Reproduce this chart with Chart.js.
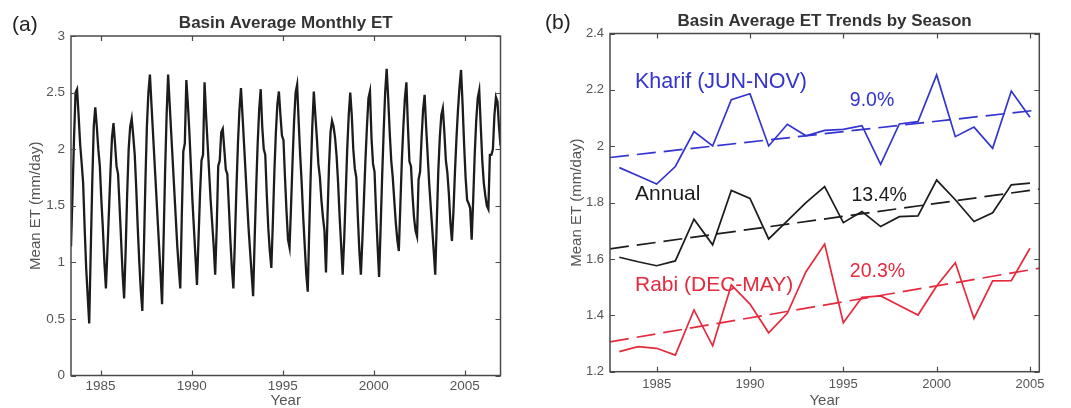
<!DOCTYPE html>
<html><head><meta charset="utf-8">
<script src="https://cdn.jsdelivr.net/npm/chart.js@4.4.0/dist/chart.umd.min.js"></script>
<style>
html,body{margin:0;padding:0;background:#fff;width:1071px;height:408px;overflow:hidden}
#wrap{position:relative;width:1071px;height:408px}
canvas{position:absolute;top:0}
#c1{left:0}
#c2{left:540px}
</style></head><body>
<div id="wrap"><canvas id="c1" width="540" height="408"></canvas><canvas id="c2" width="531" height="408"></canvas></div>
<script>
const FONT = "'Liberation Sans', Arial, Helvetica, sans-serif";

// ---- Panel (a): monthly basin-average ET, May 1983 .. Dec 2006 ----
const etStartYear = 1983;
const etStartMonth = 5;
const monthlyET = [
  1.14, 1.60, 2.10, 2.50, 2.53, 2.30, 2.05, 1.88,
  1.70, 1.30, 0.95, 0.70, 0.46, 1.10, 1.70, 2.20, 2.37, 2.20, 2.00, 1.85,
  1.55, 1.30, 1.00, 0.77, 1.10, 1.45, 1.80, 2.10, 2.23, 2.05, 1.85, 1.78,
  1.50, 1.20, 0.90, 0.68, 1.10, 1.60, 2.00, 2.20, 2.27, 2.12, 1.95, 1.65,
  1.30, 1.00, 0.75, 0.57, 1.10, 1.70, 2.20, 2.50, 2.66, 2.40, 2.15, 1.90,
  1.65, 1.40, 1.15, 0.90, 0.63, 1.20, 1.80, 2.30, 2.66, 2.40, 2.15, 1.90,
  1.65, 1.40, 1.15, 0.95, 0.77, 1.40, 1.98, 2.05, 2.61, 2.40, 2.15, 1.85,
  1.55, 1.30, 1.05, 0.80, 1.20, 1.60, 1.90, 1.95, 2.59, 2.30, 2.05, 1.80,
  1.55, 1.35, 1.15, 0.89, 1.30, 1.85, 1.90, 2.15, 2.18, 2.00, 1.82, 1.78,
  1.50, 1.20, 0.95, 0.77, 1.20, 1.65, 2.05, 2.35, 2.54, 2.30, 2.05, 1.80,
  1.55, 1.30, 1.10, 0.90, 0.70, 1.20, 1.65, 2.05, 2.35, 2.53, 2.20, 2.00,
  1.95, 1.60, 1.30, 1.10, 0.95, 1.35, 1.80, 2.15, 2.40, 2.51, 2.30, 2.12,
  2.08, 1.75, 1.45, 1.20, 1.13, 1.50, 1.90, 2.25, 2.50, 2.57, 2.25, 1.95,
  1.70, 1.40, 1.15, 0.90, 0.74, 1.30, 1.80, 2.20, 2.51, 2.30, 2.10, 1.87,
  1.75, 1.55, 1.40, 1.28, 0.91, 1.40, 1.85, 2.15, 2.25, 2.20, 2.10, 1.94,
  1.70, 1.40, 1.15, 0.89, 1.20, 1.60, 2.00, 2.30, 2.50, 2.30, 2.00, 1.83,
  1.75, 1.40, 1.10, 0.89, 1.20, 1.55, 1.90, 2.20, 2.45, 2.51, 2.10, 1.87,
  1.80, 1.45, 1.15, 0.87, 1.30, 1.75, 2.15, 2.50, 2.71, 2.45, 2.15, 1.90,
  1.75, 1.55, 1.35, 1.20, 1.10, 1.50, 1.90, 2.20, 2.45, 2.59, 2.20, 1.89,
  1.85, 1.60, 1.40, 1.28, 1.23, 1.73, 1.80, 2.10, 2.35, 2.48, 2.20, 1.95,
  1.70, 1.50, 1.30, 1.10, 0.89, 1.35, 1.80, 2.10, 2.30, 2.36, 2.15, 1.90,
  1.79, 1.60, 1.35, 1.19, 1.45, 1.80, 2.10, 2.35, 2.55, 2.70, 2.40, 2.05,
  1.75, 1.55, 1.52, 1.48, 1.20, 1.55, 1.95, 2.25, 2.45, 2.52, 2.20, 1.90,
  1.70, 1.59, 1.50, 1.47, 1.95, 1.95, 2.00, 2.30, 2.46, 2.42, 2.20, 2.03
];
const yearTicks = [1985, 1990, 1995, 2000, 2005];
const etTicksA = [0, 0.5, 1, 1.5, 2, 2.5, 3];

// ---- Panel (b): seasonal ET by year ----
const seasonYears = [1983,1984,1985,1986,1987,1988,1989,1990,1991,1992,1993,1994,1995,1996,1997,1998,1999,2000,2001,2002,2003,2004,2005];
const kharifET = [1.924,1.895,1.866,1.928,2.052,2.001,2.165,2.186,2.001,2.078,2.037,2.056,2.060,2.073,1.936,2.079,2.087,2.253,2.034,2.068,1.993,2.196,2.103];
const annualET = [1.606,1.590,1.576,1.593,1.741,1.650,1.843,1.815,1.671,1.735,1.800,1.857,1.729,1.768,1.715,1.750,1.753,1.880,1.810,1.733,1.764,1.863,1.869];
const rabiET   = [1.271,1.289,1.283,1.259,1.419,1.292,1.508,1.440,1.338,1.407,1.555,1.653,1.374,1.464,1.469,1.435,1.401,1.504,1.587,1.389,1.522,1.523,1.638];
const trendYears = [1982.5, 2005.5];
const kharifTrend = [1.960, 2.129];
const annualTrend = [1.636, 1.848];
const rabiTrend   = [1.306, 1.567];
const etTicksB = [1.2, 1.4, 1.6, 1.8, 2, 2.2, 2.4];

const BLUE = '#3333d0', RED = '#e62a3e', BLACK = '#1c1c1c';

const boxPlugin = {
  id: 'matlabBox',
  afterDraw(chart, args, opts) {
    const {ctx, chartArea: a, scales: {x, y}} = chart;
    ctx.save();
    ctx.strokeStyle = '#4a4a4a';
    ctx.lineWidth = 1.5;
    ctx.strokeRect(a.left, a.top, a.right - a.left, a.bottom - a.top);
    const L = 5;
    ctx.beginPath();
    x.ticks.forEach(t => {
      const px = Math.round(x.getPixelForValue(t.value)) + 0.5;
      ctx.moveTo(px, a.bottom); ctx.lineTo(px, a.bottom - L);
      ctx.moveTo(px, a.top); ctx.lineTo(px, a.top + L);
    });
    y.ticks.forEach(t => {
      const py = Math.round(y.getPixelForValue(t.value)) + 0.5;
      ctx.moveTo(a.left, py); ctx.lineTo(a.left + L, py);
      ctx.moveTo(a.right, py); ctx.lineTo(a.right - L, py);
    });
    ctx.lineWidth = 1.2;
    ctx.stroke();
    (opts.texts || []).forEach(t => {
      ctx.font = t.font;
      ctx.fillStyle = t.color;
      ctx.textAlign = t.align || 'left';
      ctx.textBaseline = t.baseline || 'middle';
      let px = t.x, py = t.y;
      if (t.coord === 'data') { px = x.getPixelForValue(t.x); py = y.getPixelForValue(t.y); }
      if (t.coord === 'center') { px = (a.left + a.right) / 2; }
      ctx.fillText(t.text, px, py);
    });
    ctx.restore();
  }
};

function scalesFor(xmin, xmax, ymin, ymax, yTicks, yWidth, xHeight, tickFont, xPad, yTitlePad) {
  return {
    x: {
      type: 'linear', min: xmin, max: xmax,
      afterBuildTicks: s => { s.ticks = yearTicks.map(v => ({value: v})); },
      afterFit: s => { s.height = xHeight; },
      grid: {display: false, drawTicks: false}, border: {display: false},
      ticks: {font: {family: FONT, size: tickFont}, color: '#555', padding: xPad, maxRotation: 0, autoSkip: false, callback: v => String(v)},
      title: {display: true, text: 'Year', font: {family: FONT, size: 15, lineHeight: 1.0}, color: '#555', padding: {top: 0, bottom: 0}}
    },
    y: {
      type: 'linear', min: ymin, max: ymax,
      afterBuildTicks: s => { s.ticks = yTicks.map(v => ({value: v})); },
      afterFit: s => { s.width = yWidth; },
      grid: {display: false, drawTicks: false}, border: {display: false},
      ticks: {font: {family: FONT, size: tickFont}, color: '#555', padding: 6, autoSkip: false, callback: v => String(v)},
      title: {display: true, text: 'Mean ET (mm/day)', font: {family: FONT, size: 15}, color: '#555', padding: {top: yTitlePad, bottom: 0}}
    }
  };
}

const monthlyPoints = monthlyET.map((v, i) => ({x: etStartYear + (etStartMonth - 1 + i + 0.5) / 12, y: v}));

new Chart(document.getElementById('c1'), {
  type: 'line',
  data: {datasets: [{data: monthlyPoints, borderColor: BLACK, borderWidth: 2.3, pointRadius: 0, tension: 0, fill: false}]},
  options: {
    responsive: false, animation: false, devicePixelRatio: 1,
    layout: {padding: {top: 36, right: 39.5, bottom: 0, left: 0}},
    scales: scalesFor(monthlyPoints[0].x, monthlyPoints[monthlyPoints.length - 1].x, 0, 3, etTicksA, 71, 32.5, 13.5, 3, 27),
    plugins: {
      legend: {display: false}, tooltip: {enabled: false},
      matlabBox: {texts: [
        {text: '(a)', x: 12, y: 25, font: `21px ${FONT}`, color: '#222'},
        {text: 'Basin Average Monthly ET', coord: 'center', y: 28, baseline: 'alphabetic', align: 'center', font: `bold 17px ${FONT}`, color: '#333'}
      ]}
    }
  },
  plugins: [boxPlugin]
});

const pts = (xs, ys) => ys.map((v, i) => ({x: xs[i], y: v}));
const solid = (d, c) => ({data: d, borderColor: c, borderWidth: 1.7, pointRadius: 0, tension: 0, fill: false});
const dashed = (d, c) => ({data: d, borderColor: c, borderWidth: 1.7, borderDash: [19, 8], pointRadius: 0, tension: 0, fill: false});

new Chart(document.getElementById('c2'), {
  type: 'line',
  data: {datasets: [
    dashed(pts(trendYears, kharifTrend), BLUE),
    dashed(pts(trendYears, annualTrend), BLACK),
    dashed(pts(trendYears, rabiTrend), RED),
    solid(pts(seasonYears, kharifET), BLUE),
    solid(pts(seasonYears, annualET), BLACK),
    solid(pts(seasonYears, rabiET), RED)
  ]},
  options: {
    responsive: false, animation: false, devicePixelRatio: 1,
    layout: {padding: {top: 33.5, right: 31.7, bottom: 0, left: 0}},
    scales: scalesFor(1982.5, 2005.5, 1.2, 2.4, etTicksB, 70, 36.3, 13, 5, 28),
    plugins: {
      legend: {display: false}, tooltip: {enabled: false},
      matlabBox: {texts: [
        {text: '(b)', x: 5, y: 23.5, font: `21px ${FONT}`, color: '#222'},
        {text: 'Basin Average ET Trends by Season', coord: 'center', y: 26, baseline: 'alphabetic', align: 'center', font: `bold 17px ${FONT}`, color: '#333'},
        {text: 'Kharif (JUN-NOV)', coord: 'data', x: 1983.84, y: 2.229, font: `21.5px ${FONT}`, color: BLUE},
        {text: 'Annual', coord: 'data', x: 1983.84, y: 1.831, font: `21px ${FONT}`, color: BLACK},
        {text: 'Rabi (DEC-MAY)', coord: 'data', x: 1983.84, y: 1.508, font: `21px ${FONT}`, color: RED},
        {text: '9.0%', coord: 'data', x: 1995.35, y: 2.161, font: `19.5px ${FONT}`, color: BLUE},
        {text: '13.4%', coord: 'data', x: 1995.44, y: 1.825, font: `19.5px ${FONT}`, color: BLACK},
        {text: '20.3%', coord: 'data', x: 1995.35, y: 1.555, font: `19.5px ${FONT}`, color: RED}
      ]}
    }
  },
  plugins: [boxPlugin]
});
</script>
</body></html>
